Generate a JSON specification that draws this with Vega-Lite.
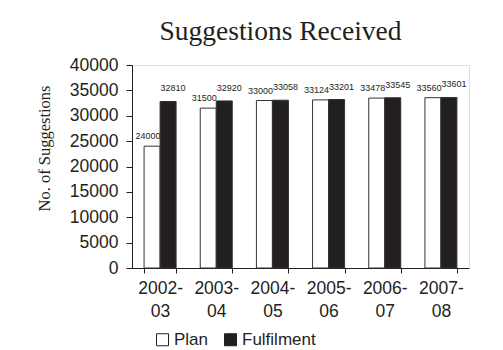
{
  "$schema": "https://vega.github.io/schema/vega-lite/v6.json",
  "width": 337,
  "height": 203,
  "autosize": "none",
  "padding": {"left": 132, "top": 65, "right": 34, "bottom": 82},
  "background": "white",
  "title": {
    "text": "Suggestions Received",
    "font": "Liberation Serif",
    "fontSize": 27.5,
    "fontWeight": "normal",
    "color": "#231f20",
    "offset": 11,
    "dx": -20
  },
  "data": {
    "values": [
      {"year": "2002-03", "series": "Plan", "value": 24000},
      {"year": "2002-03", "series": "Fulfilment", "value": 32810},
      {"year": "2003-04", "series": "Plan", "value": 31500},
      {"year": "2003-04", "series": "Fulfilment", "value": 32920},
      {"year": "2004-05", "series": "Plan", "value": 33000},
      {"year": "2004-05", "series": "Fulfilment", "value": 33058},
      {"year": "2005-06", "series": "Plan", "value": 33124},
      {"year": "2005-06", "series": "Fulfilment", "value": 33201},
      {"year": "2006-07", "series": "Plan", "value": 33478},
      {"year": "2006-07", "series": "Fulfilment", "value": 33545},
      {"year": "2007-08", "series": "Plan", "value": 33560},
      {"year": "2007-08", "series": "Fulfilment", "value": 33601}
    ]
  },
  "encoding": {
    "x": {
      "field": "year",
      "type": "nominal",
      "sort": null,
      "scale": {"paddingInner": 0.43, "paddingOuter": 0.215},
      "axis": {
        "title": null,
        "labelAngle": 0,
        "labelExpr": "datum.value ? [split(datum.value, '-')[0] + '-', split(datum.value, '-')[1]] : ''",
        "labelLineHeight": 23,
        "labelFont": "Liberation Sans",
        "labelFontSize": 17.5,
        "labelColor": "#231f20",
        "labelPadding": 6,
        "tickBand": "extent",
        "tickSize": 5,
        "tickColor": "#231f20",
        "domainColor": "#231f20"
      }
    },
    "xOffset": {"field": "series", "type": "nominal", "sort": ["Plan", "Fulfilment"]},
    "y": {
      "field": "value",
      "type": "quantitative",
      "scale": {"domain": [0, 40000]},
      "axis": {
        "title": "No. of Suggestions",
        "titleFont": "Liberation Serif",
        "titleFontSize": 16.5,
        "titleFontWeight": "normal",
        "titleColor": "#231f20",
        "titleX": -88,
        "titleY": 83,
        "titleAlign": "center",
        "titleBaseline": "middle",
        "values": [0, 5000, 10000, 15000, 20000, 25000, 30000, 35000, 40000],
        "format": "d",
        "grid": false,
        "labelFont": "Liberation Sans",
        "labelFontSize": 17.5,
        "labelColor": "#231f20",
        "labelPadding": 8,
        "tickSize": 6,
        "tickColor": "#231f20",
        "domainColor": "#231f20"
      }
    }
  },
  "layer": [
    {
      "mark": {"type": "bar", "stroke": "#333333", "strokeWidth": 1},
      "encoding": {
        "fill": {
          "field": "series",
          "type": "nominal",
          "sort": ["Plan", "Fulfilment"],
          "scale": {"domain": ["Plan", "Fulfilment"], "range": ["#ffffff", "#231f20"]},
          "legend": {
            "title": null,
            "orient": "none",
            "direction": "horizontal",
            "legendX": 22,
            "legendY": 266,
            "symbolType": "square",
            "symbolSize": 144,
            "symbolStrokeColor": "#231f20",
            "symbolStrokeWidth": 1,
            "labelFont": "Liberation Sans",
            "labelFontSize": 17,
            "labelColor": "#231f20",
            "labelOffset": 3,
            "columnPadding": 13
          }
        }
      }
    },
    {
      "transform": [{"filter": "datum.series === 'Plan'"}],
      "mark": {"type": "text", "baseline": "bottom", "dy": -5, "dx": -4, "font": "Liberation Sans", "fontSize": 9, "color": "#231f20"},
      "encoding": {
        "text": {"field": "value", "type": "quantitative", "format": "d"}
      }
    },
    {
      "transform": [{"filter": "datum.series === 'Fulfilment'"}],
      "mark": {"type": "text", "baseline": "bottom", "dy": -8, "dx": 5, "font": "Liberation Sans", "fontSize": 9, "color": "#231f20"},
      "encoding": {
        "text": {"field": "value", "type": "quantitative", "format": "d"}
      }
    }
  ]
}
